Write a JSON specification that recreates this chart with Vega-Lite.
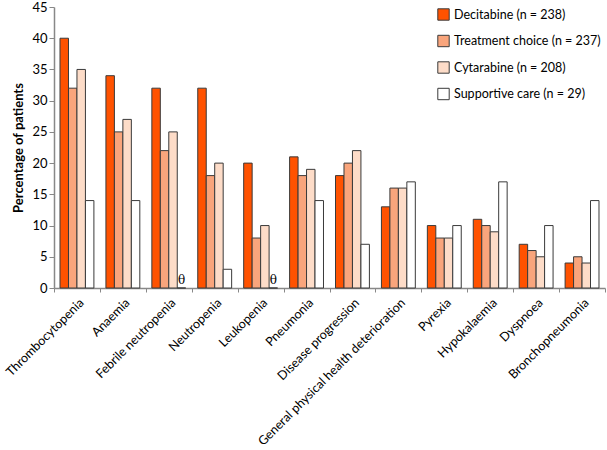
{
  "$schema": "https://vega.github.io/schema/vega-lite/v6.json",
  "width": 551,
  "height": 281,
  "autosize": {"type": "none"},
  "padding": {"left": 54, "top": 7, "right": 2, "bottom": 162},
  "background": "white",
  "config": {
    "view": {"stroke": null},
    "font": "Lato",
    "axis": {"labelFont": "Lato", "titleFont": "Lato", "labelColor": "#000", "titleColor": "#000", "domainColor": "#888", "tickColor": "#888", "grid": false}
  },
  "data": {
    "values": [
      {"event": "Thrombocytopenia", "group": "Decitabine (n = 238)", "pct": 40},
      {"event": "Thrombocytopenia", "group": "Treatment choice (n = 237)", "pct": 32},
      {"event": "Thrombocytopenia", "group": "Cytarabine (n = 208)", "pct": 35},
      {"event": "Thrombocytopenia", "group": "Supportive care (n = 29)", "pct": 14},
      {"event": "Anaemia", "group": "Decitabine (n = 238)", "pct": 34},
      {"event": "Anaemia", "group": "Treatment choice (n = 237)", "pct": 25},
      {"event": "Anaemia", "group": "Cytarabine (n = 208)", "pct": 27},
      {"event": "Anaemia", "group": "Supportive care (n = 29)", "pct": 14},
      {"event": "Febrile neutropenia", "group": "Decitabine (n = 238)", "pct": 32},
      {"event": "Febrile neutropenia", "group": "Treatment choice (n = 237)", "pct": 22},
      {"event": "Febrile neutropenia", "group": "Cytarabine (n = 208)", "pct": 25},
      {"event": "Febrile neutropenia", "group": "Supportive care (n = 29)", "pct": 0, "note": "θ"},
      {"event": "Neutropenia", "group": "Decitabine (n = 238)", "pct": 32},
      {"event": "Neutropenia", "group": "Treatment choice (n = 237)", "pct": 18},
      {"event": "Neutropenia", "group": "Cytarabine (n = 208)", "pct": 20},
      {"event": "Neutropenia", "group": "Supportive care (n = 29)", "pct": 3},
      {"event": "Leukopenia", "group": "Decitabine (n = 238)", "pct": 20},
      {"event": "Leukopenia", "group": "Treatment choice (n = 237)", "pct": 8},
      {"event": "Leukopenia", "group": "Cytarabine (n = 208)", "pct": 10},
      {"event": "Leukopenia", "group": "Supportive care (n = 29)", "pct": 0, "note": "θ"},
      {"event": "Pneumonia", "group": "Decitabine (n = 238)", "pct": 21},
      {"event": "Pneumonia", "group": "Treatment choice (n = 237)", "pct": 18},
      {"event": "Pneumonia", "group": "Cytarabine (n = 208)", "pct": 19},
      {"event": "Pneumonia", "group": "Supportive care (n = 29)", "pct": 14},
      {"event": "Disease progression", "group": "Decitabine (n = 238)", "pct": 18},
      {"event": "Disease progression", "group": "Treatment choice (n = 237)", "pct": 20},
      {"event": "Disease progression", "group": "Cytarabine (n = 208)", "pct": 22},
      {"event": "Disease progression", "group": "Supportive care (n = 29)", "pct": 7},
      {"event": "General physical health deterioration", "group": "Decitabine (n = 238)", "pct": 13},
      {"event": "General physical health deterioration", "group": "Treatment choice (n = 237)", "pct": 16},
      {"event": "General physical health deterioration", "group": "Cytarabine (n = 208)", "pct": 16},
      {"event": "General physical health deterioration", "group": "Supportive care (n = 29)", "pct": 17},
      {"event": "Pyrexia", "group": "Decitabine (n = 238)", "pct": 10},
      {"event": "Pyrexia", "group": "Treatment choice (n = 237)", "pct": 8},
      {"event": "Pyrexia", "group": "Cytarabine (n = 208)", "pct": 8},
      {"event": "Pyrexia", "group": "Supportive care (n = 29)", "pct": 10},
      {"event": "Hypokalaemia", "group": "Decitabine (n = 238)", "pct": 11},
      {"event": "Hypokalaemia", "group": "Treatment choice (n = 237)", "pct": 10},
      {"event": "Hypokalaemia", "group": "Cytarabine (n = 208)", "pct": 9},
      {"event": "Hypokalaemia", "group": "Supportive care (n = 29)", "pct": 17},
      {"event": "Dyspnoea", "group": "Decitabine (n = 238)", "pct": 7},
      {"event": "Dyspnoea", "group": "Treatment choice (n = 237)", "pct": 6},
      {"event": "Dyspnoea", "group": "Cytarabine (n = 208)", "pct": 5},
      {"event": "Dyspnoea", "group": "Supportive care (n = 29)", "pct": 10},
      {"event": "Bronchopneumonia", "group": "Decitabine (n = 238)", "pct": 4},
      {"event": "Bronchopneumonia", "group": "Treatment choice (n = 237)", "pct": 5},
      {"event": "Bronchopneumonia", "group": "Cytarabine (n = 208)", "pct": 4},
      {"event": "Bronchopneumonia", "group": "Supportive care (n = 29)", "pct": 14}
    ]
  },
  "encoding": {
    "x": {
      "field": "event", "type": "nominal", "sort": null,
      "scale": {"paddingInner": 0, "paddingOuter": 0},
      "axis": {"title": null, "labelAngle": -45, "labelFontSize": 12.5, "labelLimit": 400, "tickBand": "extent", "tickSize": 4, "labelPadding": 4, "domainWidth": 1.5}
    },
    "xOffset": {
      "field": "group", "type": "nominal", "sort": null,
      "scale": {"paddingInner": 0, "paddingOuter": 0.71}
    },
    "y": {
      "field": "pct", "type": "quantitative",
      "scale": {"domain": [0, 45], "nice": false},
      "axis": {"title": "Percentage of patients", "titleFontSize": 13, "titleFontWeight": "bold", "titlePadding": 6, "values": [0, 5, 10, 15, 20, 25, 30, 35, 40, 45], "labelFontSize": 13, "tickSize": 5, "domainWidth": 1.5}
    }
  },
  "layer": [
    {
      "mark": {"type": "bar", "stroke": "#3a3a3a", "strokeWidth": 1},
      "encoding": {
        "fill": {
          "field": "group", "type": "nominal", "sort": null,
          "scale": {
            "domain": ["Decitabine (n = 238)", "Treatment choice (n = 237)", "Cytarabine (n = 208)", "Supportive care (n = 29)"],
            "range": ["#ff5200", "#f9a57c", "#fddcc8", "#ffffff"]
          },
          "legend": {
            "title": null, "orient": "none", "legendX": 383, "legendY": 1,
            "symbolType": "square", "symbolSize": 130, "symbolStrokeColor": "#3a3a3a", "symbolStrokeWidth": 1,
            "labelFontSize": 12.5, "labelColor": "#000", "labelOffset": 4, "labelLimit": 300, "rowPadding": 9.5
          }
        }
      }
    },
    {
      "transform": [{"filter": "datum.note != null"}],
      "mark": {"type": "text", "font": "DejaVu Serif", "fontSize": 12, "baseline": "bottom", "dy": -1},
      "encoding": {"text": {"field": "note"}}
    }
  ]
}
